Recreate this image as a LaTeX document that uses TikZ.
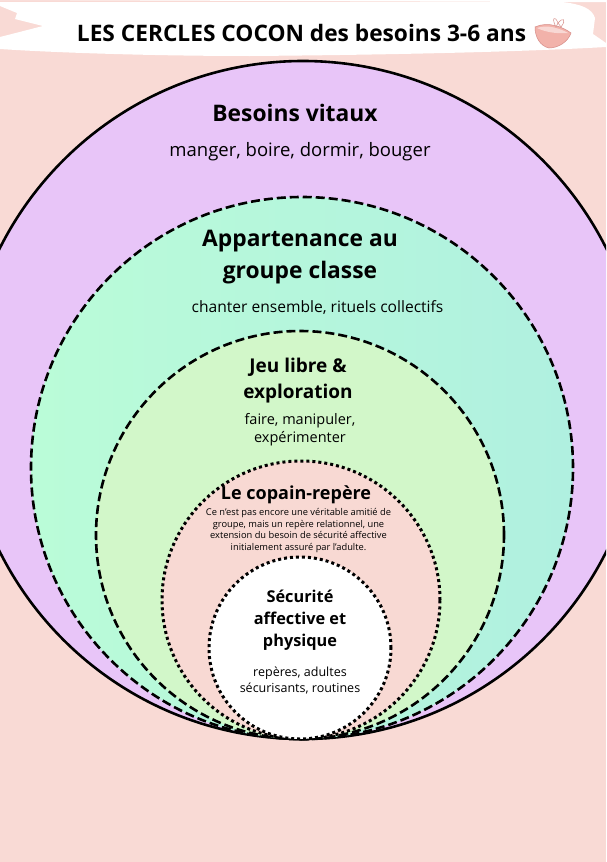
\documentclass[tikz,border=0pt]{standalone}
\usepackage{fontspec}
\setmainfont{Open Sans}
\definecolor{bgpink}{RGB}{249,218,213}
\definecolor{vitpurple}{RGB}{232,197,248}
\definecolor{mintL}{RGB}{186,252,216}
\definecolor{mintR}{RGB}{176,240,224}
\definecolor{jeugreen}{RGB}{210,247,201}
\definecolor{pinkin}{RGB}{248,217,211}
\definecolor{bowl}{RGB}{242,178,170}
\definecolor{bowldark}{RGB}{214,140,135}
\begin{document}
\begin{tikzpicture}[x=1pt,y=-1pt,
  ring/.style={circle, inner sep=0pt, outer sep=0pt, line width=2.6pt, draw=black},
  dashring/.style={ring, dash pattern=on 9pt off 4pt},
  dotring/.style={ring, line width=3pt, dash pattern=on 3pt off 3pt},
  titletext/.style={font=\bfseries\fontsize{22.7}{26}\selectfont},
  hone/.style={align=center, font=\bfseries\fontsize{22.8}{32}\selectfont},
  htwo/.style={align=center, font=\bfseries\fontsize{19}{26}\selectfont},
  hthree/.style={align=center, font=\bfseries\fontsize{18}{22}\selectfont},
  hfour/.style={align=center, font=\bfseries\fontsize{16.3}{22}\selectfont},
  pone/.style={align=center, font=\fontsize{18.5}{22}\selectfont},
  ptwo/.style={align=center, font=\fontsize{15.6}{19}\selectfont},
  pthree/.style={align=center, font=\fontsize{14.5}{18}\selectfont},
  pfour/.style={align=center, font=\fontsize{9.3}{11.4}\selectfont},
  pfive/.style={align=center, font=\fontsize{12.5}{16}\selectfont}]
\useasboundingbox (0,0) rectangle (606,862);
\clip (0,0) rectangle (606,862);
\fill[bgpink] (0,0) rectangle (606,862);
% header band
\fill[white] (0,0) -- (606,0) -- (606,2) -- (565,2) -- (560,2) -- cycle;
\fill[white] (0,2) -- (562,2) .. controls (580,4) and (592,8) .. (595,18)
  -- (593,34) -- (606,43) -- (606,47) .. controls (520,52) and (380,55) .. (250,56)
  .. controls (160,56) and (60,53) .. (0,49) -- (0,37) -- (43,26) -- (15,19) -- (17,13) -- (0,6) -- cycle;
% circles
\node[ring, fill=vitpurple, minimum size=678pt] (c1) at (303,400) {};
\node[dashring, left color=mintL, right color=mintR, minimum size=542pt] (c2) at (302,468) {};
\node[dashring, fill=jeugreen, minimum size=408pt] (c3) at (300,535) {};
\node[dotring, fill=pinkin, minimum size=278pt] (c4) at (301,600) {};
\node[dotring, fill=white, minimum size=182pt] (c5) at (300,648) {};
% title
\node[titletext] (t) at (301.5,33) {LES CERCLES COCON des besoins 3-6 ans};
% emoji-like cushion
\fill[bowl, draw=bowldark, line width=0.5pt] (535,27) .. controls (548,21) and (563,27) .. (571,33)
  .. controls (568,42) and (558,48) .. (549,48) .. controls (540,46) and (535,37) .. (535,27) -- cycle;
\fill[white, opacity=0.5] (537,28) .. controls (548,24) and (561,29) .. (568,33) .. controls (557,34) and (545,32) .. (537,28) -- cycle;
\draw[bowldark, fill=white, line width=0.5pt] (556,27) .. controls (551,18) and (555,15) .. (558,23) -- cycle;
\draw[bowldark, fill=white, line width=0.5pt] (558,23) .. controls (563,17) and (567,19) .. (561,27) -- cycle;
% texts
\node[hone] (b1) at (295,113) {Besoins vitaux};
\node[pone] (s1) at (300,152) {manger, boire, dormir, bouger};
\node[hone] (b2) at (300,257.5) {Appartenance au\\groupe classe};
\node[ptwo] (s2) at (317.5,308) {chanter ensemble, rituels collectifs};
\node[htwo] (b3) at (298,381) {Jeu libre \&\\exploration};
\node[pthree] (s3) at (300,430) {faire, manipuler,\\expérimenter};
\node[hthree] (b4) at (296,495) {Le copain-repère};
\node[pfour] (s4) at (298.5,530.5) {Ce n’est pas encore une véritable amitié de\\groupe, mais un repère relationnel, une\\extension du besoin de sécurité affective\\initialement assuré par l’adulte.};
\node[hfour] (b5) at (300,620) {Sécurité\\affective et\\physique};
\node[pfive] (s5) at (300,681) {repères, adultes\\sécurisants, routines};
\end{tikzpicture}
\end{document}
